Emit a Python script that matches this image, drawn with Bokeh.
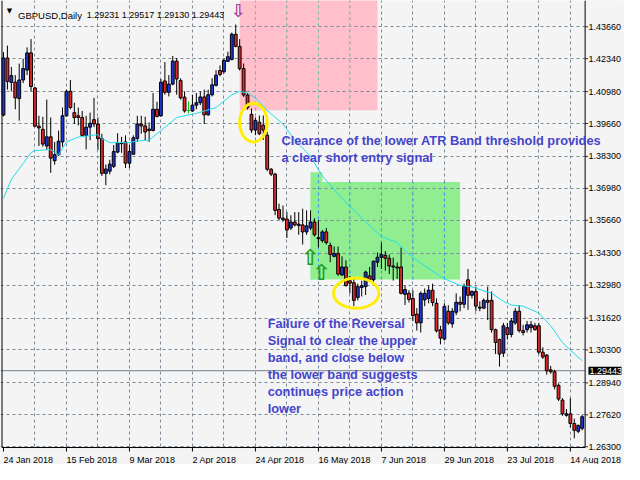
from bokeh.plotting import figure
from bokeh.models import Range1d, FixedTicker, PrintfTickFormatter, Label, Span, ColumnDataSource
from bokeh.embed import file_html
from bokeh.resources import INLINE

# ---------------- data (GBPUSD daily, 24 Jan 2018 .. 17 Aug 2018) ----------------
bar_open = [1.4001, 1.4237, 1.4136, 1.4137, 1.4069, 1.4146, 1.4187, 1.4258, 1.4113, 1.3955,
            1.3942, 1.3873, 1.3911, 1.3812, 1.3837, 1.3890, 1.3998, 1.4099, 1.4011, 1.3998,
            1.3991, 1.3917, 1.3951, 1.3982, 1.3964, 1.3904, 1.3760, 1.3769, 1.3789, 1.3848,
            1.3886, 1.3890, 1.3802, 1.3839, 1.3904, 1.3964, 1.3956, 1.3943, 1.3937, 1.4025,
            1.3998, 1.4142, 1.4095, 1.4129, 1.4224, 1.4144, 1.4075, 1.4020, 1.4018, 1.4042,
            1.4052, 1.4076, 1.4002, 1.4085, 1.4124, 1.4185, 1.4180, 1.4223, 1.4231, 1.4335,
            1.4285, 1.4193, 1.4084, 1.4004, 1.3939, 1.3971, 1.3959, 1.3918, 1.3777, 1.3757,
            1.3611, 1.3575, 1.3571, 1.3534, 1.3559, 1.3544, 1.3547, 1.3518, 1.3534, 1.3559,
            1.3494, 1.3482, 1.3518, 1.3462, 1.3417, 1.3429, 1.3340, 1.3373, 1.3316, 1.3308,
            1.3247, 1.3288, 1.3292, 1.3336, 1.3320, 1.3393, 1.3413, 1.3421, 1.3409, 1.3377,
            1.3373, 1.3373, 1.3260, 1.3264, 1.3243, 1.3178, 1.3142, 1.3237, 1.3243, 1.3277,
            1.3223, 1.3113, 1.3075, 1.3190, 1.3138, 1.3186, 1.3227, 1.3219, 1.3320, 1.3256,
            1.3272, 1.3207, 1.3203, 1.3235, 1.3235, 1.3114, 1.3073, 1.3017, 1.3122, 1.3094,
            1.3142, 1.3190, 1.3110, 1.3114, 1.3122, 1.3130, 1.3130, 1.3021, 1.3009, 1.2948,
            1.2940, 1.2884, 1.2823, 1.2760, 1.2766, 1.2726, 1.2694, 1.2706]
bar_high = [1.4261, 1.4288, 1.4200, 1.4166, 1.4214, 1.4234, 1.4281, 1.4315, 1.4117, 1.3998,
            1.3994, 1.4065, 1.3991, 1.3890, 1.3937, 1.4032, 1.4106, 1.4146, 1.4052, 1.4032,
            1.4018, 1.3998, 1.4011, 1.4072, 1.3991, 1.3924, 1.3796, 1.3816, 1.3877, 1.3926,
            1.3911, 1.3917, 1.3877, 1.3917, 1.3998, 1.3998, 1.3994, 1.3971, 1.4092, 1.4056,
            1.4150, 1.4220, 1.4166, 1.4245, 1.4237, 1.4153, 1.4099, 1.4058, 1.4085, 1.4092,
            1.4099, 1.4106, 1.4106, 1.4153, 1.4187, 1.4206, 1.4234, 1.4263, 1.4342, 1.4375,
            1.4315, 1.4214, 1.4092, 1.4028, 1.3991, 1.3999, 1.3999, 1.3931, 1.3782, 1.3762,
            1.3635, 1.3627, 1.3600, 1.3587, 1.3600, 1.3600, 1.3614, 1.3607, 1.3607, 1.3574,
            1.3567, 1.3526, 1.3534, 1.3474, 1.3458, 1.3458, 1.3417, 1.3401, 1.3336, 1.3324,
            1.3304, 1.3316, 1.3358, 1.3373, 1.3398, 1.3433, 1.3474, 1.3439, 1.3425, 1.3412,
            1.3392, 1.3453, 1.3297, 1.3277, 1.3277, 1.3203, 1.3272, 1.3284, 1.3296, 1.3304,
            1.3243, 1.3130, 1.3223, 1.3215, 1.3203, 1.3264, 1.3251, 1.3304, 1.3365, 1.3276,
            1.3292, 1.3231, 1.3243, 1.3292, 1.3272, 1.3118, 1.3077, 1.3142, 1.3142, 1.3162,
            1.3203, 1.3215, 1.3134, 1.3150, 1.3150, 1.3142, 1.3142, 1.3041, 1.3013, 1.2964,
            1.2948, 1.2892, 1.2831, 1.2786, 1.2831, 1.2746, 1.2722, 1.2762]
bar_low = [1.3995, 1.4106, 1.4099, 1.4025, 1.3978, 1.4133, 1.4166, 1.4099, 1.3951, 1.3873,
           1.3870, 1.3857, 1.3762, 1.3796, 1.3832, 1.3870, 1.3994, 1.4025, 1.3964, 1.3958,
           1.3911, 1.3859, 1.3897, 1.3951, 1.3857, 1.3749, 1.3711, 1.3756, 1.3782, 1.3843,
           1.3845, 1.3782, 1.3782, 1.3837, 1.3890, 1.3924, 1.3897, 1.3890, 1.3934, 1.3991,
           1.3994, 1.4085, 1.4078, 1.4124, 1.4085, 1.4065, 1.4011, 1.4007, 1.4014, 1.4025,
           1.4042, 1.3964, 1.3998, 1.4078, 1.4119, 1.4161, 1.4173, 1.4220, 1.4227, 1.4281,
           1.4185, 1.4076, 1.4024, 1.3927, 1.3918, 1.3918, 1.3898, 1.3769, 1.3749, 1.3587,
           1.3567, 1.3560, 1.3493, 1.3526, 1.3540, 1.3506, 1.3466, 1.3506, 1.3526, 1.3499,
           1.3454, 1.3474, 1.3466, 1.3393, 1.3413, 1.3336, 1.3336, 1.3292, 1.3264, 1.3211,
           1.3235, 1.3251, 1.3257, 1.3316, 1.3312, 1.3373, 1.3365, 1.3358, 1.3344, 1.3317,
           1.3324, 1.3260, 1.3216, 1.3226, 1.3149, 1.3110, 1.3102, 1.3211, 1.3223, 1.3211,
           1.3102, 1.3053, 1.3069, 1.3134, 1.3122, 1.3174, 1.3190, 1.3203, 1.3196, 1.3243,
           1.3190, 1.3190, 1.3199, 1.3154, 1.3102, 1.3013, 1.2961, 1.3001, 1.3073, 1.3082,
           1.3134, 1.3102, 1.3090, 1.3102, 1.3102, 1.3110, 1.3013, 1.2993, 1.2928, 1.2932,
           1.2867, 1.2819, 1.2758, 1.2754, 1.2710, 1.2665, 1.2686, 1.2698]
bar_close = [1.4237, 1.4140, 1.4164, 1.4072, 1.4146, 1.4193, 1.4258, 1.4119, 1.3955, 1.3948,
             1.3881, 1.3911, 1.3823, 1.3837, 1.3893, 1.3998, 1.4099, 1.4032, 1.3991, 1.3991,
             1.3917, 1.3951, 1.3967, 1.3964, 1.3904, 1.3760, 1.3778, 1.3798, 1.3850, 1.3886,
             1.3883, 1.3802, 1.3850, 1.3907, 1.3964, 1.3956, 1.3931, 1.3937, 1.4025, 1.3995,
             1.4137, 1.4095, 1.4129, 1.4224, 1.4150, 1.4072, 1.4018, 1.4020, 1.4042, 1.4052,
             1.4076, 1.4002, 1.4085, 1.4126, 1.4166, 1.4169, 1.4227, 1.4242, 1.4335, 1.4285,
             1.4193, 1.4084, 1.4032, 1.3939, 1.3979, 1.3924, 1.3939, 1.3777, 1.3757, 1.3607,
             1.3575, 1.3569, 1.3526, 1.3559, 1.3547, 1.3550, 1.3518, 1.3543, 1.3559, 1.3506,
             1.3490, 1.3518, 1.3474, 1.3425, 1.3429, 1.3344, 1.3373, 1.3296, 1.3306, 1.3235,
             1.3292, 1.3296, 1.3352, 1.3320, 1.3397, 1.3413, 1.3425, 1.3409, 1.3377, 1.3373,
             1.3369, 1.3264, 1.3280, 1.3239, 1.3172, 1.3142, 1.3264, 1.3264, 1.3277, 1.3226,
             1.3109, 1.3079, 1.3210, 1.3142, 1.3190, 1.3227, 1.3219, 1.3292, 1.3256, 1.3272,
             1.3211, 1.3203, 1.3235, 1.3227, 1.3114, 1.3061, 1.3013, 1.3130, 1.3094, 1.3150,
             1.3190, 1.3110, 1.3102, 1.3134, 1.3134, 1.3114, 1.3021, 1.3001, 1.2944, 1.2940,
             1.2880, 1.2827, 1.2766, 1.2766, 1.2726, 1.2698, 1.2718, 1.2754]

date_tick_bars = [0, 16, 32, 48, 64, 80, 96, 112, 128, 144]
date_tick_labels = ["24 Jan 2018", "15 Feb 2018", "9 Mar 2018", "2 Apr 2018", "24 Apr 2018",
                    "16 May 2018", "7 Jun 2018", "29 Jun 2018", "23 Jul 2018", "14 Aug 2018"]
grid_bars = [8, 16, 24, 32, 40, 48, 56, 64, 72, 80, 88, 96, 104, 112, 120, 128, 136, 144]
price_ticks = [1.43660, 1.42340, 1.40980, 1.39660, 1.38300, 1.36980, 1.35660,
               1.34300, 1.32980, 1.31620, 1.30300, 1.28940, 1.27620, 1.26300]

band_bars = [0, 2, 3, 5, 7, 8, 12, 14, 16, 19, 24, 25, 27, 32, 34, 37, 40, 44, 49, 54,
             58, 60, 62, 64, 67, 71, 74, 78, 81, 86, 91, 96, 100, 103, 107, 112, 116, 119,
             124, 127, 129, 132, 136, 139, 142, 144, 147]
band_vals = [1.3657, 1.3736, 1.3757, 1.3801, 1.3846, 1.3854, 1.3858, 1.3836, 1.3890, 1.3910,
             1.3920, 1.3904, 1.3887, 1.3887, 1.3894, 1.3897, 1.3937, 1.3991, 1.4008, 1.4032,
             1.4085, 1.4099, 1.4092, 1.4072, 1.4020, 1.3964, 1.3898, 1.3830, 1.3749, 1.3656,
             1.3575, 1.3499, 1.3474, 1.3425, 1.3378, 1.3324, 1.3297, 1.3291, 1.3264, 1.3231,
             1.3216, 1.3211, 1.3183, 1.3130, 1.3061, 1.3029, 1.2985]

symbol_text = "GBPUSD,Daily"
quote_text = "1.29231 1.29517 1.29130 1.29443"
last_price = 1.29443

sell_zone_left, sell_zone_right, sell_zone_bottom = 60, 95, 1.40208
buy_zone_left = [78, 78]
buy_zone_right = [81, 116]
buy_zone_bottom = [1.33214, 1.33214]
buy_zone_top = [1.37649, 1.37245]

sell_arrow_bar, sell_arrow_price = 59.7, 1.44332
buy_arrow_bars = [77.95, 80.75]
buy_arrow_prices = [1.34119, 1.33513]

circle_bars = [63.5, 89.6]
circle_prices = [1.39698, 1.32648]

note1_lines = ["Clearance of the lower ATR Band threshold provides",
               "a clear short entry signal"]
note1_bar = 70.6
note1_prices = [1.38971, 1.38275]
note2_lines = ["Failure of the Reversal", "Signal to clear the upper", "band, and close below",
               "the lower band suggests", "continues price action", "lower"]
note2_bar = 67.1
note2_prices = [1.31403, 1.30695, 1.29996, 1.29280, 1.28569, 1.27865]

# ---------------- layout / style ----------------
W, H = 624, 464
PX_PER_BAR = 3.9494          # canvas pixels per daily bar
BAR0_X = 2.981               # canvas x of bar 0 centre
x_start = (0 - BAR0_X) / PX_PER_BAR
x_end = (W - 1 - BAR0_X) / PX_PER_BAR
y_top, y_bot = 1.44745, 1.25566          # prices at canvas top / bottom
axis_x = 147.75              # price-axis line (bar units)
left_x = -0.375              # left border (bar units)
border_y = 1.26268           # bottom border (price)
tick_end_y = 1.26103         # lower end of date ticks
date_label_y = 1.25772       # baseline of date labels

BG = "#F4F4F4"
GRID = "#7D8A97"
BULL = "#1F35D6"
BEAR = "#E02828"
DOJI = "#10C010"
CYAN = "#22DDEE"
NOTE = "#4545CC"
FONT = "Liberation Sans"

p = figure(width=W, height=H, output_backend="svg", toolbar_location=None,
           x_range=Range1d(x_start, x_end), y_range=Range1d(y_bot, y_top),
           y_axis_location="right",
           min_border_left=0, min_border_top=0, min_border_right=1, min_border_bottom=0,
           background_fill_color=BG, border_fill_color=BG, outline_line_color=None)

# price axis: labels only, placed right of the drawn axis line
p.yaxis.ticker = FixedTicker(ticks=price_ticks)
p.yaxis.formatter = PrintfTickFormatter(format="%.5f")
p.yaxis.axis_line_color = None
p.yaxis.major_tick_line_color = None
p.yaxis.minor_tick_line_color = None
p.yaxis.major_tick_out = 0
p.yaxis.major_tick_in = 0
p.yaxis.major_label_standoff = -33
p.yaxis.major_label_text_font = FONT
p.yaxis.major_label_text_font_size = "9px"
p.yaxis.major_label_text_color = "black"
p.xaxis.visible = False

p.xgrid.ticker = FixedTicker(ticks=grid_bars)
p.ygrid.ticker = FixedTicker(ticks=price_ticks)
p.grid.grid_line_color = GRID
p.grid.grid_line_dash = "3 3"
p.grid.grid_line_width = 1

# zones (under the grid)
p.quad(left=[sell_zone_left], right=[sell_zone_right], bottom=[sell_zone_bottom],
       top=[y_top + 0.01], fill_color="#FFC0CB", line_color=None, level="image")
p.quad(left=buy_zone_left, right=buy_zone_right, bottom=buy_zone_bottom, top=buy_zone_top,
       fill_color="#90EE90", line_color=None, level="image")

# tinted grid lines inside the zones
pink_x = [g for g in grid_bars if sell_zone_left < g < sell_zone_right]
if pink_x:
    p.segment(x0=pink_x, y0=[sell_zone_bottom] * len(pink_x), x1=pink_x, y1=[y_top] * len(pink_x),
              line_color="#FFC0CB", line_width=1)
    p.segment(x0=pink_x, y0=[sell_zone_bottom] * len(pink_x), x1=pink_x, y1=[y_top] * len(pink_x),
              line_color="#6FBF9F", line_width=1, line_dash="3 3")
green_x, green_b, green_t = [], [], []
for g in grid_bars:
    tops = [t for l, r, t in zip(buy_zone_left, buy_zone_right, buy_zone_top) if l < g < r]
    if tops:
        green_x.append(g)
        green_t.append(max(tops))
        green_b.append(min(buy_zone_bottom))
if green_x:
    p.segment(x0=green_x, y0=green_b, x1=green_x, y1=green_t, line_color="#90EE90", line_width=1)
    p.segment(x0=green_x, y0=green_b, x1=green_x, y1=green_t, line_color="#3A8EEA",
              line_width=1, line_dash="3 3")

# current price line
p.add_layout(Span(location=last_price, dimension="width", line_color="#708090",
                  line_width=1, level="underlay"))

# blank strips for the axes (grid stops at the chart border)
p.quad(left=[axis_x], right=[x_end + 2], bottom=[y_bot - 1], top=[y_top + 1],
       fill_color=BG, line_color=None)
p.quad(left=[x_start - 2], right=[axis_x], bottom=[y_bot - 1], top=[border_y],
       fill_color=BG, line_color=None)

# borders, axis line, ticks
p.segment(x0=[left_x], y0=[border_y], x1=[left_x], y1=[y_top], line_color="black", line_width=1)
p.segment(x0=[axis_x], y0=[border_y], x1=[axis_x], y1=[y_top], line_color="black", line_width=1)
p.segment(x0=[left_x], y0=[border_y], x1=[axis_x], y1=[border_y], line_color="black", line_width=1)
p.segment(x0=[axis_x] * len(price_ticks), y0=price_ticks, x1=[axis_x + 0.75] * len(price_ticks),
          y1=price_ticks, line_color="#333333", line_width=1)
p.segment(x0=date_tick_bars, y0=[border_y] * len(date_tick_bars), x1=date_tick_bars,
          y1=[tick_end_y] * len(date_tick_bars), line_color="black", line_width=1)

# candles
n = len(bar_open)
idx = list(range(n))
body_top = [max(o, c) for o, c in zip(bar_open, bar_close)]
body_bot = [min(o, c) for o, c in zip(bar_open, bar_close)]
fill = [BULL if c > o else (BEAR if c < o else DOJI) for o, c in zip(bar_open, bar_close)]
edge = ["black" if c != o else DOJI for o, c in zip(bar_open, bar_close)]
src = ColumnDataSource(dict(x=idx, o=bar_open, h=bar_high, l=bar_low, c=bar_close,
                            top=body_top, bot=body_bot, fill=fill, edge=edge))
p.segment(x0="x", y0="l", x1="x", y1="h", line_color="edge", line_width=1, source=src)
p.vbar(x="x", width=0.72, top="top", bottom="bot", fill_color="fill", line_color="edge",
       line_width=1, source=src)

# ATR band
p.line(band_bars, band_vals, line_color=CYAN, line_width=1)

# highlight circles
p.ellipse(x=circle_bars, y=circle_prices, width=[27.6, 45.3], height=[38.6, 30.3],
          width_units="screen", height_units="screen",
          fill_color=None, line_color="#FFEE00", line_width=3)

# signal arrows
p.add_layout(Label(x=sell_arrow_bar, y=sell_arrow_price, text="\u21e9", text_font="DejaVu Sans",
                   text_font_size="18px", text_font_style="bold", text_color="#B03CB0",
                   text_align="center", text_baseline="middle"))
for bx, by in zip(buy_arrow_bars, buy_arrow_prices):
    p.add_layout(Label(x=bx, y=by, text="\u21e7", text_font="DejaVu Sans",
                       text_font_size="22px", text_font_style="bold", text_color="#1F9A1F",
                       text_align="center", text_baseline="middle"))

# notes
for t, y in zip(note1_lines, note1_prices):
    p.add_layout(Label(x=note1_bar, y=y, text=t, text_font=FONT, text_font_size="12.8px",
                       text_font_style="bold", text_color=NOTE, text_align="left",
                       text_baseline="alphabetic"))
for t, y in zip(note2_lines, note2_prices):
    p.add_layout(Label(x=note2_bar, y=y, text=t, text_font=FONT, text_font_size="12.8px",
                       text_font_style="bold", text_color=NOTE, text_align="left",
                       text_baseline="alphabetic"))

# date labels (MetaTrader style: text starts at its tick)
for b, t in zip(date_tick_bars, date_tick_labels):
    p.add_layout(Label(x=b, y=date_label_y, text=t, text_font=FONT, text_font_size="9px",
                       text_color="black", text_align="left", text_baseline="alphabetic"))

# header
p.add_layout(Label(x=1.5, y=1.44307, text="\u25bc", text_font="DejaVu Sans",
                   text_font_size="7px", text_color="black", text_align="center",
                   text_baseline="middle"))
p.add_layout(Label(x=3.7, y=1.44145, text=symbol_text, text_font=FONT, text_font_size="9.5px",
                   text_color="black", text_align="left", text_baseline="alphabetic"))
p.add_layout(Label(x=21.125, y=1.44145, text=quote_text, text_font=FONT, text_font_size="9px",
                   text_color="black", text_align="left", text_baseline="alphabetic"))

# current price tag on the axis
p.add_layout(Label(x=148.6, y=last_price, text=f"{last_price:.5f}", text_font=FONT,
                   text_font_size="9px", text_color="white", text_align="left",
                   text_baseline="middle", background_fill_color="black", padding=1))

open("out.html", "w").write(file_html(p, INLINE))
